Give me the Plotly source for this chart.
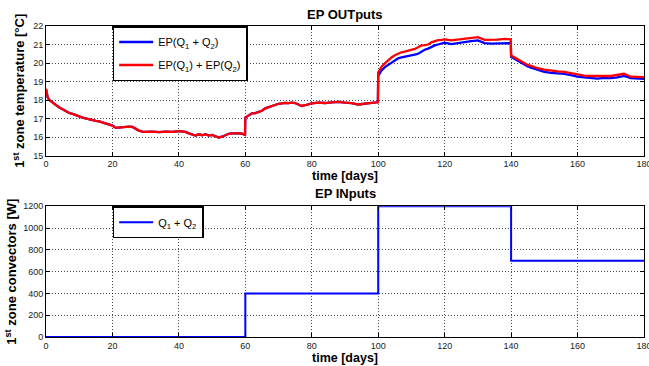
import plotly.graph_objects as go

# ---------------- data ----------------
days = [0, 0.5, 1, 2, 3, 4, 5, 6, 7, 8,
        9, 10, 11, 12, 13, 14, 15, 16, 17, 18,
        19, 20, 21, 22, 23, 24, 25, 26, 27, 28,
        29, 30, 32, 34, 36, 38, 40, 41, 42, 43,
        44, 45, 46, 47, 48, 49, 50, 51, 52, 53,
        54, 55, 56, 57, 58, 59, 59.9, 60, 61, 62,
        63, 64, 65, 66, 67, 68, 69, 70, 71, 72,
        73, 74, 75, 76, 77, 78, 79, 80, 82, 84,
        86, 88, 90, 92, 94, 96, 98, 99.9, 100, 100.5,
        101, 102, 103, 104, 105, 106, 107, 108, 109, 110,
        111, 112, 113, 114, 115, 116, 117, 118, 119, 120,
        122, 124, 126, 128, 130, 132, 134, 136, 138, 139.9,
        140, 141, 142, 143, 144, 145, 146, 147, 148, 150,
        152, 154, 156, 158, 160, 162, 164, 166, 168, 170,
        172, 174, 176, 178, 180]

# EP(Q1 + Q2)
temp_sum = [18.6, 18.15, 18.0, 17.85, 17.75, 17.6, 17.5, 17.38, 17.3, 17.25,
            17.2, 17.12, 17.05, 17.0, 16.97, 16.92, 16.88, 16.85, 16.8, 16.76,
            16.7, 16.62, 16.5, 16.52, 16.55, 16.53, 16.56, 16.55, 16.45, 16.35,
            16.3, 16.28, 16.3, 16.27, 16.3, 16.28, 16.32, 16.3, 16.28, 16.2,
            16.12, 16.08, 16.15, 16.1, 16.16, 16.08, 16.12, 16.05, 15.98, 16.02,
            16.12, 16.18, 16.2, 16.22, 16.2, 16.18, 16.12, 17.05, 17.15, 17.28,
            17.3, 17.38, 17.42, 17.55, 17.62, 17.68, 17.75, 17.8, 17.82, 17.85,
            17.83, 17.86, 17.84, 17.75, 17.68, 17.72, 17.78, 17.82, 17.86, 17.84,
            17.88, 17.9, 17.86, 17.84, 17.76, 17.82, 17.85, 17.88, 19.3, 19.45,
            19.6, 19.78, 19.9, 20.03, 20.15, 20.25, 20.3, 20.33, 20.37, 20.4,
            20.45, 20.5, 20.62, 20.72, 20.78, 20.88, 20.95, 21.0, 21.05, 21.1,
            21.02, 21.08, 21.15, 21.18, 21.22, 21.08, 21.05, 21.06, 21.1, 21.08,
            20.33, 20.22, 20.12, 20.02, 19.92, 19.82, 19.75, 19.7, 19.63, 19.52,
            19.47, 19.46, 19.42, 19.35, 19.26, 19.22, 19.18, 19.16, 19.2, 19.18,
            19.22, 19.3, 19.18, 19.16, 19.15]

# EP(Q1) + EP(Q2)
temp_split = [18.6, 18.15, 18.0, 17.85, 17.75, 17.6, 17.5, 17.38, 17.3, 17.25,
              17.2, 17.12, 17.05, 17.0, 16.97, 16.92, 16.88, 16.85, 16.8, 16.76,
              16.7, 16.62, 16.5, 16.52, 16.55, 16.53, 16.56, 16.55, 16.45, 16.35,
              16.3, 16.28, 16.3, 16.27, 16.3, 16.28, 16.32, 16.3, 16.28, 16.2,
              16.12, 16.08, 16.15, 16.1, 16.16, 16.08, 16.12, 16.05, 15.98, 16.02,
              16.12, 16.18, 16.2, 16.22, 16.2, 16.18, 16.12, 17.05, 17.15, 17.28,
              17.3, 17.38, 17.42, 17.55, 17.62, 17.68, 17.75, 17.8, 17.82, 17.85,
              17.83, 17.86, 17.84, 17.75, 17.68, 17.72, 17.78, 17.82, 17.86, 17.84,
              17.88, 17.9, 17.86, 17.84, 17.76, 17.82, 17.85, 17.88, 19.5, 19.65,
              19.8, 19.98, 20.15, 20.3, 20.42, 20.52, 20.58, 20.62, 20.67, 20.7,
              20.76, 20.85, 20.95, 20.97, 21.0, 21.12, 21.2, 21.24, 21.25, 21.28,
              21.22, 21.26, 21.32, 21.35, 21.4, 21.25, 21.24, 21.26, 21.3, 21.28,
              20.4, 20.3, 20.2, 20.1, 20.0, 19.9, 19.85, 19.78, 19.72, 19.64,
              19.58, 19.55, 19.52, 19.44, 19.36, 19.32, 19.3, 19.28, 19.3, 19.3,
              19.35, 19.42, 19.26, 19.25, 19.24]

# inputs: convector power (step changes)
input_days = [0, 60, 100, 140, 180]
input_power = [0, 400, 1200, 700, 700]

x_ticks = [0, 20, 40, 60, 80, 100, 120, 140, 160, 180]
temp_ticks = [15, 16, 17, 18, 19, 20, 21, 22]
power_ticks = [0, 200, 400, 600, 800, 1000, 1200]

# ---------------- figure ----------------
FONT = "Liberation Sans, Arial, Helvetica, sans-serif"
BLUE = "#0000ff"
RED = "#ff0000"

fig = go.Figure()

fig.add_trace(go.Scatter(
    x=days, y=temp_sum, mode="lines", name="EP(Q<sub>1</sub> + Q<sub>2</sub>)",
    line=dict(color=BLUE, width=2.3), xaxis="x", yaxis="y",
    legend="legend", legendgroup="a"))
fig.add_trace(go.Scatter(
    x=days, y=temp_split, mode="lines", name="EP(Q<sub>1</sub>) + EP(Q<sub>2</sub>)",
    line=dict(color=RED, width=2.3), xaxis="x", yaxis="y",
    legend="legend", legendgroup="b"))
fig.add_trace(go.Scatter(
    x=input_days, y=input_power, mode="lines", name="Q<sub>1</sub> + Q<sub>2</sub>",
    line=dict(color=BLUE, width=2, shape="hv"), xaxis="x2", yaxis="y2",
    legend="legend2"))

H_PLOT = 366 - 25.7 - 29.3  # plot area height in px


def py(pix):
    """pixel row -> paper y"""
    return (366 - 29.3 - pix) / H_PLOT


common_axis = dict(
    showline=True, linecolor="black", linewidth=1, mirror="ticks",
    ticks="inside", ticklen=4, tickcolor="black", automargin=False,
    showgrid=True, gridcolor="rgba(0,0,0,0.7)", gridwidth=1, griddash="1px,2px",
    zeroline=False, tickfont=dict(family=FONT, size=9, color="#222"),
    ticklabeloverflow="allow",
)

fig.update_layout(
    width=649, height=366,
    margin=dict(l=46, r=5, t=25.7, b=29.3, autoexpand=False),
    paper_bgcolor="white", plot_bgcolor="white",
    font=dict(family=FONT, color="black"),
    xaxis=dict(domain=[0, 1], anchor="y", range=[0, 180], tickvals=x_ticks,
               title=dict(text="<b>time [days]</b>", font=dict(size=12.5), standoff=2),
               **common_axis),
    yaxis=dict(domain=[py(155.3), 1], anchor="x", range=[15, 22], tickvals=temp_ticks,
               title=dict(text="<b>1<sup>st</sup> zone temperature [°C]</b>",
                          font=dict(size=13), standoff=5),
               **common_axis),
    xaxis2=dict(domain=[0, 1], anchor="y2", range=[0, 180], tickvals=x_ticks,
                title=dict(text="<b>time [days]</b>", font=dict(size=12.5), standoff=2),
                **common_axis),
    yaxis2=dict(domain=[0, py(206)], anchor="x2", range=[0, 1200], tickvals=power_ticks,
                title=dict(text="<b>1<sup>st</sup> zone convectors [W]</b>",
                           font=dict(size=13), standoff=3),
                **common_axis),
    legend=dict(x=(113 - 46.3) / 598.2, y=1, xanchor="left", yanchor="top",
                bgcolor="white", bordercolor="black", borderwidth=1.5,
                font=dict(size=11, family=FONT), tracegroupgap=4, itemwidth=34),
    legend2=dict(x=(113 - 46.3) / 598.2, y=py(206), xanchor="left", yanchor="top",
                 bgcolor="white", bordercolor="black", borderwidth=1.5,
                 font=dict(size=11, family=FONT), itemwidth=34),
    showlegend=True,
    annotations=[
        dict(text="<b>EP OUTputs</b>", xref="paper", yref="paper", x=0.5, y=py(14),
             xanchor="center", yanchor="middle", showarrow=False, font=dict(size=13)),
        dict(text="<b>EP INputs</b>", xref="paper", yref="paper", x=0.5, y=py(193),
             xanchor="center", yanchor="middle", showarrow=False, font=dict(size=13)),
    ],
)

fig.write_html("out.html",
               config={"displayModeBar": False},
               post_script="document.body.style.margin='0';"
                           "document.body.style.overflow='hidden';")
